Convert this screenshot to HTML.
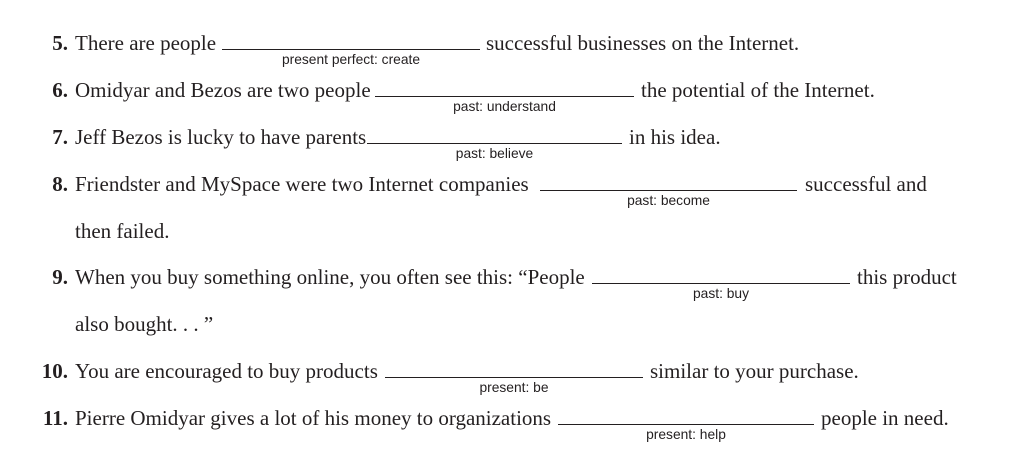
<!DOCTYPE html>
<html><head><meta charset="utf-8"><style>
body{margin:0;width:1034px;height:460px;background:#fff;position:relative;overflow:hidden;font-family:"Liberation Serif",serif;color:#231f20}
.t{position:absolute;font-size:21px;line-height:21px;white-space:nowrap}
.n{position:absolute;font-size:21px;line-height:21px;font-weight:bold;text-align:right;width:30px;left:38px}
.l{position:absolute;height:1px;background:#231f20}
.h{position:absolute;font-family:"Liberation Sans",sans-serif;font-size:13.8px;line-height:14px;text-align:center;white-space:nowrap}
</style></head><body>
<!-- 5 -->
<div class="n" style="top:33px">5.</div>
<div class="t" style="left:75px;top:33px">There are people</div>
<div class="l" style="left:222px;width:258px;top:49px"></div>
<div class="h" style="left:222px;width:258px;top:53px">present perfect: create</div>
<div class="t" style="left:486px;top:33px">successful businesses on the Internet.</div>
<!-- 6 -->
<div class="n" style="top:80px">6.</div>
<div class="t" style="left:75px;top:80px">Omidyar and Bezos are two people</div>
<div class="l" style="left:375px;width:259px;top:96px"></div>
<div class="h" style="left:375px;width:259px;top:100px">past: understand</div>
<div class="t" style="left:641px;top:80px">the potential of the Internet.</div>
<!-- 7 -->
<div class="n" style="top:127px">7.</div>
<div class="t" style="left:75px;top:127px">Jeff Bezos is lucky to have parents</div>
<div class="l" style="left:367px;width:255px;top:143px"></div>
<div class="h" style="left:367px;width:255px;top:147px">past: believe</div>
<div class="t" style="left:629px;top:127px">in his idea.</div>
<!-- 8 -->
<div class="n" style="top:174px">8.</div>
<div class="t" style="left:75px;top:174px">Friendster and MySpace were two Internet companies</div>
<div class="l" style="left:540px;width:257px;top:190px"></div>
<div class="h" style="left:540px;width:257px;top:194px">past: become</div>
<div class="t" style="left:805px;top:174px">successful and</div>
<div class="t" style="left:75px;top:221px">then failed.</div>
<!-- 9 -->
<div class="n" style="top:267px">9.</div>
<div class="t" style="left:75px;top:267px">When you buy something online, you often see this: “People</div>
<div class="l" style="left:592px;width:258px;top:283px"></div>
<div class="h" style="left:592px;width:258px;top:287px">past: buy</div>
<div class="t" style="left:857px;top:267px">this product</div>
<div class="t" style="left:75px;top:314px">also bought. . . ”</div>
<!-- 10 -->
<div class="n" style="top:361px">10.</div>
<div class="t" style="left:75px;top:361px">You are encouraged to buy products</div>
<div class="l" style="left:385px;width:258px;top:377px"></div>
<div class="h" style="left:385px;width:258px;top:381px">present: be</div>
<div class="t" style="left:650px;top:361px">similar to your purchase.</div>
<!-- 11 -->
<div class="n" style="top:408px">11.</div>
<div class="t" style="left:75px;top:408px">Pierre Omidyar gives a lot of his money to organizations</div>
<div class="l" style="left:558px;width:256px;top:424px"></div>
<div class="h" style="left:558px;width:256px;top:428px">present: help</div>
<div class="t" style="left:821px;top:408px">people in need.</div>
</body></html>
